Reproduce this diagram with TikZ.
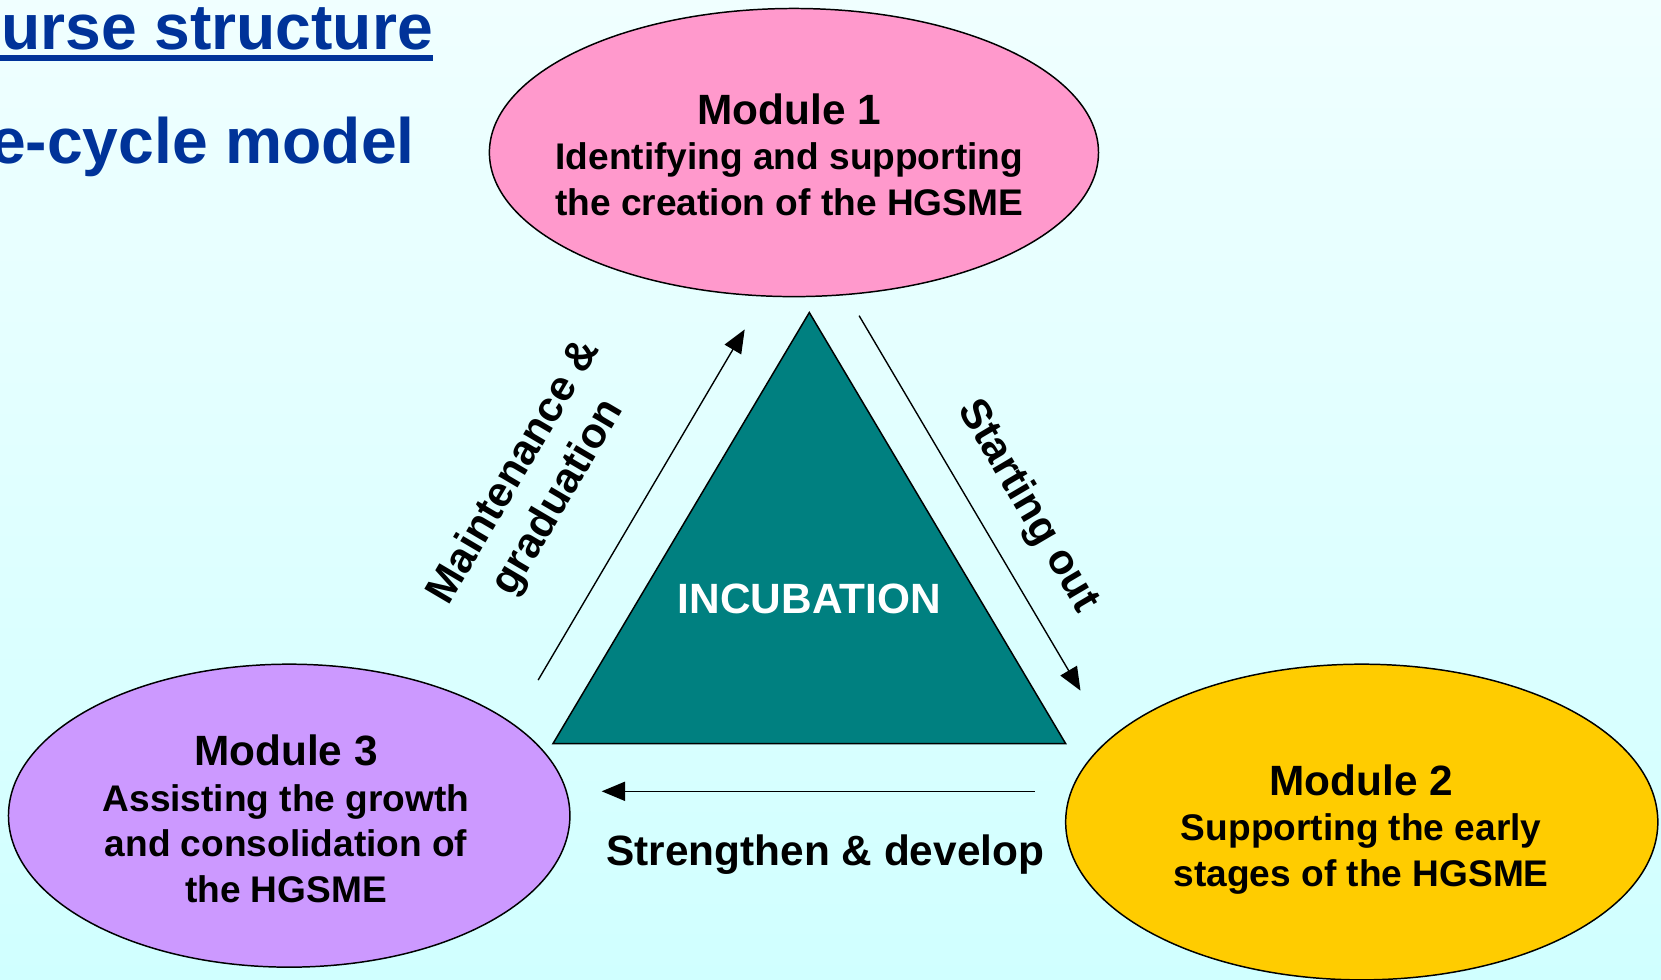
\documentclass[tikz,border=0pt]{standalone}
\usepackage{fontspec}
\setmainfont{Liberation Sans}
\usetikzlibrary{arrows.meta,shapes.geometric}
\definecolor{titleblue}{RGB}{0,51,153}
\definecolor{bgtop}{RGB}{240,255,255}
\definecolor{bgbot}{RGB}{208,255,255}
\definecolor{mpink}{RGB}{255,153,204}
\definecolor{mpurple}{RGB}{204,153,255}
\definecolor{myellow}{RGB}{255,204,0}
\definecolor{teal}{RGB}{0,128,128}
\tikzset{
  modshape/.style={ellipse, draw=black, line width=0.7pt, inner sep=0pt},
  modtext/.style={align=center, inner sep=0pt,
    font=\bfseries\fontsize{17.5}{21.5}\selectfont},
  flow/.style={line width=0.65pt, -{Triangle[length=11pt,width=9pt]}},
  flowlabel/.style={font=\bfseries\fontsize{20}{24}\selectfont, align=center, inner sep=0pt},
  titletext/.style={font=\bfseries\fontsize{30.3}{34}\selectfont, text=titleblue, inner sep=0pt}
}
\newcommand{\modtitle}[1]{{\fontsize{20}{21.5}\selectfont #1}}
\begin{document}
\begin{tikzpicture}[x=0.5pt,y=-0.5pt]
\useasboundingbox (0,0) rectangle (1568,925);
\shade[top color=bgtop, bottom color=bgbot] (0,0) rectangle (1568,925);

% titles
\node[titletext, anchor=base east] (t1) at (409,47) {urse structure};
\draw[titleblue, line width=3pt] (0,55) -- (409,55);
\node[titletext, anchor=base east] (t2) at (392,154) {e-cycle model};

% modules
\node[modshape, fill=mpink, minimum width=287.5pt, minimum height=136pt] (e1) at (749.5,144) {};
\node[modshape, fill=myellow, minimum width=279.5pt, minimum height=149pt] (e2) at (1285.5,776) {};
\node[modshape, fill=mpurple, minimum width=265pt, minimum height=143pt] (e3) at (273,770) {};
\node[modtext] (m1) at (745,146)
  {\modtitle{Module 1}\\Identifying and supporting\\the creation of the HGSME};
\node[modtext] (m2) at (1285,783)
  {\modtitle{Module 2}\\Supporting the early\\stages of the HGSME};
\node[modtext] (m3) at (270,773)
  {\modtitle{Module 3}\\Assisting the growth\\and consolidation of\\the HGSME};

% triangle
\coordinate (apex) at (764,295);
\coordinate (bl) at (522,702);
\coordinate (br) at (1006,702);
\draw[fill=teal, line width=0.7pt] (apex) -- (br) -- (bl) -- cycle;
\node[font=\bfseries\fontsize{20}{22}\selectfont, text=white] (inc) at (764,565) {INCUBATION};

% arrows
\coordinate (a1s) at (508,642);
\coordinate (a1e) at (703,311);
\coordinate (a2s) at (811,298);
\coordinate (a2e) at (1020,652);
\coordinate (a3s) at (977,747);
\coordinate (a3e) at (568,747);
\draw[flow] (a1s) -- (a1e);
\draw[flow] (a2s) -- (a2e);
\draw[flow] (a3s) -- (a3e);

\node[flowlabel, rotate=59.5] (l1) at (507,458) {Maintenance \&\\graduation};
\node[flowlabel, rotate=-59.5] (l2) at (970,478) {Starting out};
\node[flowlabel] (l3) at (779,807) {Strengthen \& develop};
\end{tikzpicture}
\end{document}
